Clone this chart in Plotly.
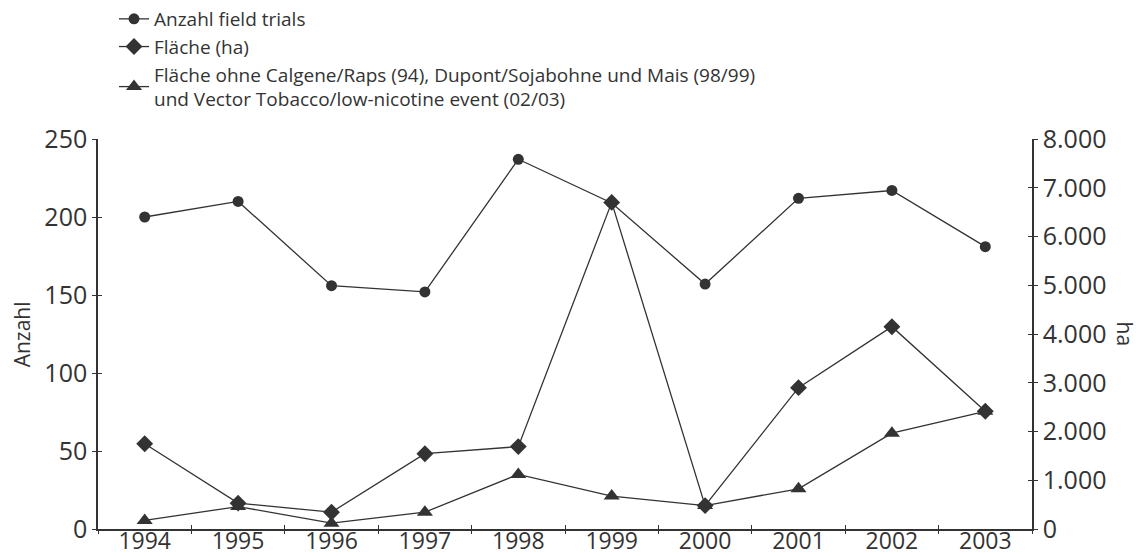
import plotly.graph_objects as go

years = [1994, 1995, 1996, 1997, 1998, 1999, 2000, 2001, 2002, 2003]
anzahl = [200, 210, 156, 152, 237, 209, 157, 212, 217, 181]
flaeche = [1750, 530, 345, 1545, 1690, 6700, 480, 2900, 4150, 2415]
flaeche_ohne = [175, 460, 120, 345, 1120, 675, 480, 825, 1965, 2415]

left_ticks = [0, 50, 100, 150, 200, 250]
right_ticks = [0, 1000, 2000, 3000, 4000, 5000, 6000, 7000, 8000]
boundaries = [y - 0.5 for y in years] + [years[-1] + 0.5]

name1 = "Anzahl field trials"
name2 = "Fläche (ha)"
name3 = ("Fläche ohne Calgene/Raps (94), Dupont/Sojabohne und Mais (98/99)"
         "<br>und Vector Tobacco/low-nicotine event (02/03)")

C = "#333333"
FONT = "Open Sans"

fig = go.Figure()
fig.add_trace(go.Scatter(x=years, y=anzahl, name=name1, mode="lines+markers",
                         line=dict(color=C, width=1.3),
                         marker=dict(symbol="circle", size=11, color=C),
                         yaxis="y"))
fig.add_trace(go.Scatter(x=years, y=flaeche, name=name2, mode="lines+markers",
                         line=dict(color=C, width=1.3),
                         marker=dict(symbol="diamond", size=13, color=C),
                         yaxis="y2"))
fig.add_trace(go.Scatter(x=years, y=flaeche_ohne, name=name3, mode="lines+markers",
                         line=dict(color=C, width=1.3),
                         marker=dict(symbol="triangle-up", size=14, color=C),
                         yaxis="y2"))
# empty helper traces so that tick-overlay axes render
for xa, ya in [("x3", "y"), ("x4", "y"), ("x", "y3"), ("x", "y4")]:
    fig.add_trace(go.Scatter(x=[], y=[], xaxis=xa, yaxis=ya, showlegend=False,
                             hoverinfo="skip"))

xr = [years[0] - 0.5, years[-1] + 0.5]
common = dict(showgrid=False, zeroline=False, tickcolor=C, tickwidth=1.3,
              automargin=False)

fig.update_layout(
    width=1144, height=556,
    margin=dict(l=98, r=112, t=139, b=27, autoexpand=False),
    paper_bgcolor="white", plot_bgcolor="white",
    separators=",.",
    font=dict(family=FONT, color=C),
    showlegend=True,
    legend=dict(xref="container", yref="container",
                x=114 / 1144, y=1.0, xanchor="left", yanchor="top",
                font=dict(size=19, color=C, family=FONT),
                bgcolor="rgba(0,0,0,0)", tracegroupgap=0, itemwidth=30),
    xaxis=dict(range=xr, tickmode="array", tickvals=years,
               ticktext=[str(y) for y in years], ticks="",
               ticklabelstandoff=-9,
               showline=True, linecolor=C, linewidth=1.5,
               tickfont=dict(size=23, color=C), **common),
    xaxis3=dict(range=xr, overlaying="x", anchor="y", side="bottom",
                tickmode="array", tickvals=boundaries, ticks="outside", ticklen=4,
                showticklabels=False, showline=False, **common),
    xaxis4=dict(range=xr, overlaying="x", anchor="y", side="bottom",
                tickmode="array", tickvals=boundaries, ticks="inside", ticklen=4,
                showticklabels=False, showline=False, **common),
    yaxis=dict(range=[0, 250], tickmode="array", tickvals=left_ticks,
               ticks="outside", ticklen=4, showline=True, linecolor=C, linewidth=1.5,
               tickfont=dict(size=25, color=C), **common),
    yaxis3=dict(range=[0, 250], overlaying="y", side="left", anchor="x",
                tickmode="array", tickvals=left_ticks, ticks="inside", ticklen=4,
                showticklabels=False, showline=False, **common),
    yaxis2=dict(range=[0, 8000], overlaying="y", side="right", anchor="x",
                tickmode="array", tickvals=right_ticks, tickformat=",d",
                ticks="outside", ticklen=4, showline=True, linecolor=C, linewidth=1.5,
                tickfont=dict(size=25, color=C), **common),
    yaxis4=dict(range=[0, 8000], overlaying="y", side="right", anchor="x",
                tickmode="array", tickvals=right_ticks, ticks="inside", ticklen=4,
                showticklabels=False, showline=False, **common),
    annotations=[
        dict(text="Anzahl", xref="paper", yref="paper", x=-0.081, y=0.5,
             textangle=-90, showarrow=False, font=dict(size=21, color=C, family=FONT),
             xanchor="center", yanchor="middle"),
        dict(text="ha", xref="paper", yref="paper", x=1.1, y=0.5,
             textangle=90, showarrow=False, font=dict(size=21, color=C, family=FONT),
             xanchor="center", yanchor="middle"),
    ],
)

fig.write_html("out.html", config={"displayModeBar": False},
               post_script="document.body.style.margin='0';")
